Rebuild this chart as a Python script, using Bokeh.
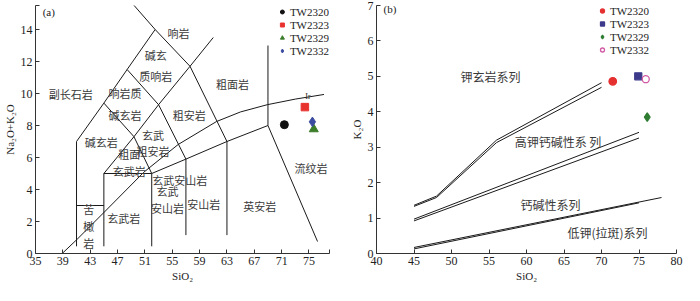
from bokeh.plotting import figure
from bokeh.models import FixedTicker, Legend, LegendItem, ColumnDataSource, Range1d
from bokeh.layouts import row
from bokeh.embed import file_html
from bokeh.resources import INLINE
from bokeh.core.properties import value

# ---------------- data: panel (a) TAS ----------------
samples = ["TW2320", "TW2323", "TW2329", "TW2332"]
tas_sio2 = [71.4, 74.4, 75.7, 75.5]
tas_alk = [8.05, 9.15, 7.77, 8.23]
tas_markers = ["circle", "square", "triangle", "diamond"]
tas_sizes = [8, 7.5, 9, 9.5]
tas_colors = ["#111111", "#e8322e", "#3b7d2a", "#3c4ca0"]

# TAS field boundaries (SiO2, Na2O+K2O)
tas_bx = [
    [41, 41, 45, 48.4, 52.5, 48.4],
    [41, 45],
    [45, 45],
    [45, 52],
    [52, 52],
    [52, 57, 63, 69],
    [57, 57],
    [63, 63],
    [69, 69],
    [69, 76.25],
    [45, 49.4, 52],
    [45, 49.4, 53, 57],
    [48.4, 53, 57.6, 63],
    [52.5, 57.6, 61],
]
tas_by = [
    [0.45, 7, 9.4, 11.5, 14, 16],
    [3, 3],
    [0.45, 5],
    [5, 5],
    [0.45, 5],
    [5, 5.9, 7, 8],
    [1.15, 5.9],
    [1.15, 7],
    [8, 13],
    [8, 0.75],
    [5, 7.3, 5],
    [9.4, 7.3, 9.3, 5.9],
    [11.5, 9.3, 11.7, 7],
    [14, 11.7, 13.5],
]
# alkaline / subalkaline boundary (Ir)
ir_x = [38.9, 41, 45.07, 50.84, 55.86, 61.48, 65, 68.9, 73, 77.2]
ir_y = [0, 0.85, 2.59, 5.08, 6.81, 8.25, 8.85, 9.3, 9.65, 9.94]

fields_1 = ["响岩", "副长石岩", "粗面岩", "粗安岩", "碱玄岩", "玄武\n粗安岩", "粗面\n玄武岩",
            "玄武安山岩", "玄武\n安山岩", "安山岩", "英安岩", "流纹岩", "苦\n橄\n岩", "玄武岩"]
fields_1_x = [55.9, 40.15, 63.8, 57.5, 44.6, 52.2, 48.7, 56.1, 54.3, 59.6, 67.8, 75.3, 42.8, 47.9]
fields_1_y = [13.8, 9.97, 10.6, 8.63, 7.0, 6.9, 5.7, 4.6, 3.39, 3.07, 2.97, 5.37, 1.73, 2.2]
fields_2 = ["碱玄\n质响岩", "响岩质\n碱玄岩"]
fields_2_x = [52.6, 48.1]
fields_2_y = [11.74, 9.35]

# ---------------- data: panel (b) K2O-SiO2 ----------------
k_sio2 = [71.5, 74.9, 76.1, 75.9]
k2o = [4.86, 5.0, 3.85, 4.92]
k_markers = ["circle", "square", "diamond", "circle"]
k_sizes = [7.5, 7, 8.5, 7]
k_line = ["#e53030", "#3d3a8c", "#2f7d32", "#d25aa5"]
k_fill = ["#e53030", "#3d3a8c", "#2f7d32", "#ffffff"]

series_bx = [
    [45, 48, 56, 70], [45, 48, 56, 70],
    [45, 75], [45, 75],
    [45, 78], [45, 75],
]
series_by = [
    [1.36, 1.62, 3.2, 4.82], [1.33, 1.58, 3.13, 4.69],
    [0.97, 3.42], [0.92, 3.26],
    [0.17, 1.58], [0.13, 1.43],
]
series_names = ["钾玄岩系列", "高钾钙碱性系 列", "钙碱性系列", "低钾(拉斑)系列"]
series_x = [55.2, 64.2, 63.2, 70.8]
series_y = [5.01, 3.17, 1.39, 0.58]

SERIF = "Liberation Serif"
CJK = "Noto Sans CJK SC"


def style(p):
    p.grid.visible = False
    p.outline_line_color = None
    p.background_fill_color = "white"
    p.border_fill_color = "white"
    p.axis.axis_line_color = "#333333"
    p.axis.major_tick_line_color = "#333333"
    p.axis.major_tick_in = 4
    p.axis.major_tick_out = 0
    p.axis.minor_tick_in = 0
    p.axis.minor_tick_out = 0
    p.axis.major_label_text_font = SERIF
    p.axis.major_label_text_font_size = "12px"
    p.axis.major_label_text_color = "#222222"
    p.axis.major_label_standoff = 3
    p.axis.axis_label_text_font = SERIF
    p.axis.axis_label_text_font_size = "11px"
    p.axis.axis_label_text_font_style = "normal"
    p.axis.axis_label_text_color = "#222222"
    p.axis.axis_label_standoff = 2


def make_legend(p, renderer, loc):
    items = [LegendItem(label=s, renderers=[renderer], index=i) for i, s in enumerate(samples)]
    lg = Legend(items=items, location=loc, background_fill_alpha=0, border_line_alpha=0,
                label_text_font=SERIF, label_text_font_size="11px", label_text_color="#222222",
                glyph_width=10, glyph_height=13, label_height=13, spacing=0, padding=0,
                margin=0, label_standoff=3)
    p.add_layout(lg)


# ---------------- panel (a) ----------------
pa = figure(width=347, height=285, x_range=Range1d(35, 78), y_range=Range1d(0, 15.5),
            output_backend="svg", toolbar_location=None,
            min_border_left=30, min_border_right=18, min_border_top=2, min_border_bottom=32)
style(pa)
pa.xaxis.ticker = FixedTicker(ticks=[35, 39, 43, 47, 51, 55, 59, 63, 67, 71, 75, 78], minor_ticks=[])
pa.xaxis.major_label_overrides = {78: ""}
pa.yaxis.ticker = FixedTicker(ticks=[0, 2, 4, 6, 8, 10, 12, 14, 15.5], minor_ticks=[])
pa.yaxis.major_label_overrides = {15.5: ""}
pa.xaxis.axis_label = "SiO₂"
pa.yaxis.axis_label = "Na₂O+K₂O"

pa.multi_line(tas_bx, tas_by, line_color="#1a1a1a", line_width=1)
pa.line(ir_x, ir_y, line_color="#1a1a1a", line_width=1)
pa.text(x=[74.85], y=[9.8], text=["Ir"], text_font=value(SERIF), text_font_size=value("8px"),
        text_align="center", text_baseline="middle", text_color="#222222")
pa.text(x=fields_1_x, y=fields_1_y, text=fields_1, text_font=value(CJK), text_font_size=value("11px"),
        text_align="center", text_baseline="middle", text_color="#3a3a3a", text_line_height=1.05)
pa.text(x=fields_2_x, y=fields_2_y, text=fields_2, text_font=value(CJK), text_font_size=value("11px"),
        text_align="center", text_baseline="middle", text_color="#3a3a3a", text_line_height=1.35)
pa.text(x=[36.05], y=[15.1], text=["(a)"], text_font=value(SERIF), text_font_size=value("11px"),
        text_align="left", text_baseline="middle", text_color="#222222")

src_a = ColumnDataSource(dict(x=tas_sio2, y=tas_alk, m=tas_markers, s=tas_sizes, c=tas_colors))
ra = pa.scatter("x", "y", source=src_a, marker="m", size="s", fill_color="c", line_color="c")
make_legend(pa, ra, "top_right")

# ---------------- panel (b) ----------------
pb = figure(width=337, height=285, x_range=Range1d(40, 80), y_range=Range1d(0, 7),
            output_backend="svg", toolbar_location=None,
            min_border_left=27, min_border_right=8, min_border_top=5, min_border_bottom=32)
style(pb)
pb.xaxis.ticker = FixedTicker(ticks=[40, 45, 50, 55, 60, 65, 70, 75, 80], minor_ticks=[])
pb.yaxis.ticker = FixedTicker(ticks=[0, 1, 2, 3, 4, 5, 6, 7], minor_ticks=[])
pb.xaxis.axis_label = "SiO₂"
pb.yaxis.axis_label = "K₂O"

pb.multi_line(series_bx, series_by, line_color="#1a1a1a", line_width=1)
pb.text(x=series_x, y=series_y, text=series_names, text_font=value(CJK), text_font_size=value("12px"),
        text_align="center", text_baseline="middle", text_color="#3a3a3a")
pb.text(x=[40.94], y=[6.89], text=["(b)"], text_font=value(SERIF), text_font_size=value("11px"),
        text_align="left", text_baseline="middle", text_color="#222222")

src_b = ColumnDataSource(dict(x=k_sio2, y=k2o, m=k_markers, s=k_sizes, lc=k_line, fc=k_fill))
rb = pb.scatter("x", "y", source=src_b, marker="m", size="s", fill_color="fc",
                line_color="lc", line_width=1.3)
make_legend(pb, rb, (221, 197))

layout = row(pa, pb)
open("out.html", "w").write(file_html(layout, INLINE))
